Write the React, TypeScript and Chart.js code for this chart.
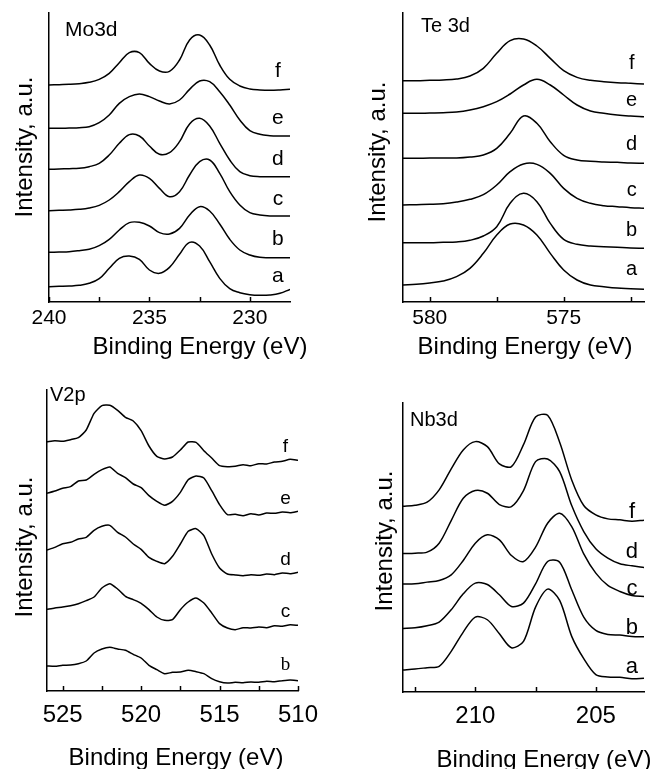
import React, { useEffect, useRef } from 'react';
import { Chart, registerables } from 'chart.js';
Chart.register(...registerables);

const SANS = '"Liberation Sans", Arial, Helvetica, sans-serif';
const SERIF = '"Liberation Serif", "Times New Roman", serif';
const W = 651;
const H = 769;
const XBOX = 44;

// ---------- Mo3d ----------
const moEnergy = [240, 239.5, 239, 238.5, 238, 237.5, 237, 236.5, 236, 235.5, 235, 234.5, 234, 233.5, 233, 232.5, 232, 231.5, 231, 230.5, 230, 229.5, 229, 228.5, 228];
const moF = [651, 652, 653, 655, 659, 668, 686, 718, 748, 748, 716, 693, 692, 726, 786, 801, 771, 711, 668, 648, 639, 636, 635, 636, 638];
const moE = [521, 521, 522, 523, 526, 538, 561, 596, 616, 624, 616, 603, 594, 606, 638, 663, 661, 631, 591, 546, 514, 503, 499, 498, 498];
const moD = [398, 399, 400, 401, 406, 416, 441, 476, 502, 498, 468, 443, 448, 481, 534, 551, 528, 476, 426, 391, 379, 376, 376, 376, 376];
const moC = [274, 275, 276, 278, 282, 290, 306, 331, 361, 381, 371, 341, 316, 331, 381, 421, 426, 386, 331, 291, 268, 261, 258, 258, 258];
const moB = [149, 150, 151, 154, 158, 169, 188, 216, 238, 239, 228, 208, 204, 221, 261, 286, 273, 234, 188, 156, 141, 134, 133, 133, 133];
const moA = [46, 47, 48, 50, 56, 70, 101, 131, 138, 128, 96, 86, 104, 143, 179, 168, 121, 71, 40, 28, 22, 20, 21, 26, 38];
const moLetters = ['f', 'e', 'd', 'c', 'b', 'a'];
const moLetterY = [691, 551, 428, 308, 188, 78];
const moTicks = [240, 237.5, 235, 232.5, 230];

// ---------- Te 3d ----------
const teEnergy = [581, 580.5, 580, 579.5, 579, 578.5, 578, 577.5, 577, 576.5, 576, 575.5, 575, 574.5, 574, 573.5, 573, 572.5, 572];
const teF = [664, 664, 665, 666, 669, 678, 701, 746, 784, 789, 768, 731, 694, 674, 665, 661, 658, 656, 654];
const teE = [566, 566, 567, 568, 570, 576, 586, 601, 624, 651, 668, 651, 621, 591, 573, 566, 561, 558, 556];
const teD = [431, 431, 432, 432, 432, 435, 441, 461, 506, 558, 536, 481, 440, 426, 422, 420, 419, 417, 416];
const teC = [291, 292, 293, 295, 300, 308, 322, 351, 391, 414, 413, 386, 341, 311, 296, 289, 286, 283, 281];
const teB = [178, 178, 178, 179, 180, 185, 198, 226, 296, 326, 301, 236, 188, 173, 168, 166, 164, 162, 161];
const teA = [51, 53, 57, 63, 76, 101, 146, 201, 234, 231, 201, 146, 96, 66, 51, 46, 42, 40, 38];
const teLetters = ['f', 'e', 'd', 'c', 'b', 'a'];
const teLetterY = [716, 606, 474, 336, 216, 98];
const teTicks = [580, 577.5, 575, 572.5];

// ---------- V2p ----------
const vEnergy = [526, 525.5, 525, 524.5, 524, 523.5, 523, 522.5, 522, 521.5, 521, 520.5, 520, 519.5, 519, 518.5, 518, 517.5, 517, 516.5, 516, 515.5, 515, 514.5, 514, 513.5, 513, 512.5, 512, 511.5, 511, 510.5, 510];
const vF = [748, 751, 749, 754, 760, 783, 833, 856, 857, 842, 821, 810, 781, 735, 704, 696, 702, 723, 747, 746, 721, 699, 676, 673, 674, 679, 676, 682, 681, 687, 689, 695, 692];
const vE = [593, 600, 608, 613, 630, 633, 650, 664, 672, 653, 640, 621, 610, 586, 569, 557, 569, 596, 634, 645, 639, 601, 559, 529, 530, 526, 532, 528, 534, 533, 537, 535, 539];
const vD = [423, 431, 442, 446, 456, 461, 482, 494, 497, 476, 462, 441, 425, 401, 389, 382, 404, 441, 479, 487, 466, 411, 369, 351, 348, 346, 349, 347, 351, 349, 354, 352, 356];
const vC = [245, 249, 252, 256, 262, 271, 282, 309, 322, 306, 284, 274, 263, 244, 222, 212, 214, 244, 267, 279, 264, 234, 202, 189, 184, 190, 189, 192, 190, 196, 194, 199, 197];
const vB = [75, 74, 77, 78, 82, 90, 114, 126, 131, 126, 122, 110, 99, 77, 64, 52, 56, 57, 62, 58, 52, 37, 28, 24, 26, 25, 27, 26, 29, 28, 31, 33, 31];
const vLetters = ['f', 'e', 'd', 'c', 'b'];
const vLetterY = [733, 578, 393, 238, 78];
const vTicks = [525, 522.5, 520, 517.5, 515, 512.5, 510];

// ---------- Nb3d ----------
const nbEnergy = [213, 212.5, 212, 211.5, 211, 210.5, 210, 209.5, 209, 208.5, 208, 207.5, 207, 206.5, 206, 205.5, 205, 204.5, 204, 203.5, 203];
const nbF = [558, 561, 570, 607, 670, 727, 752, 737, 685, 677, 743, 826, 831, 750, 637, 560, 532, 520, 517, 513, 516];
const nbD = [416, 417, 420, 447, 515, 582, 605, 597, 563, 557, 605, 692, 700, 662, 560, 482, 430, 402, 385, 379, 374];
const nbC = [324, 325, 330, 335, 352, 395, 447, 472, 457, 410, 392, 435, 507, 537, 497, 415, 357, 320, 302, 290, 287];
const nbB = [191, 193, 199, 210, 247, 295, 327, 323, 292, 257, 267, 325, 392, 390, 307, 225, 185, 173, 171, 167, 166];
const nbA = [66, 69, 73, 77, 122, 180, 225, 217, 175, 133, 152, 255, 309, 275, 167, 100, 52, 45, 44, 40, 41];
const nbLetters = ['f', 'd', 'c', 'b', 'a'];
const nbLetterY = [541, 421, 311, 191, 76];
const nbTicks = [212.5, 210, 207.5, 205];

type Panel = {
  energy: number[];
  series: number[][];
  ticks: number[];
  letters: string[];
  letterY: number[];
  letterX: number;
  letterSize: number;
  letterFonts: string[];
  xMin: number;
  xMax: number;
  yMax: number;
  box: { l: number; r: number; t: number; b: number };
  tickSize: number;
  tickPad: number;
  tension: number;
  title: string;
  titleSize: number;
  titleDx: number;
  titleDy: number;
  xTitle: [number, number];
  yTitle: [number, number];
};

const panels: Panel[] = [
  {
    energy: moEnergy, series: [moF, moE, moD, moC, moB, moA], ticks: moTicks,
    letters: moLetters, letterY: moLetterY, letterX: 228.6, letterSize: 21,
    letterFonts: [SANS, SANS, SANS, SANS, SANS, SANS],
    xMin: 228, xMax: 240, yMax: 867,
    box: { l: 49, r: 290, t: 13, b: 302 }, tickSize: 21, tickPad: 4, tension: 0.4,
    title: 'Mo3d', titleSize: 21, titleDx: 16, titleDy: 17, xTitle: [200, 347], yTitle: [25, 147],
  },
  {
    energy: teEnergy, series: [teF, teE, teD, teC, teB, teA], ticks: teTicks,
    letters: teLetters, letterY: teLetterY, letterX: 572.46, letterSize: 20,
    letterFonts: [SANS, SANS, SANS, SANS, SANS, SANS],
    xMin: 572, xMax: 581, yMax: 867,
    box: { l: 403, r: 644, t: 13, b: 302 }, tickSize: 21, tickPad: 4, tension: 0.4,
    title: 'Te 3d', titleSize: 20, titleDx: 18, titleDy: 13, xTitle: [525, 347], yTitle: [378, 152],
  },
  {
    energy: vEnergy, series: [vF, vE, vD, vC, vB], ticks: vTicks,
    letters: vLetters, letterY: vLetterY, letterX: 510.8, letterSize: 19,
    letterFonts: [SANS, SANS, SANS, SANS, SERIF],
    xMin: 510, xMax: 526, yMax: 903,
    box: { l: 47, r: 298, t: 390, b: 691 }, tickSize: 24, tickPad: 10, tension: 0.2,
    title: 'V2p', titleSize: 20, titleDx: 3, titleDy: 5, xTitle: [176, 758], yTitle: [25, 547],
  },
  {
    energy: nbEnergy, series: [nbF, nbD, nbC, nbB, nbA], ticks: nbTicks,
    letters: nbLetters, letterY: nbLetterY, letterX: 203.5, letterSize: 22,
    letterFonts: [SANS, SANS, SANS, SANS, SANS],
    xMin: 203, xMax: 213, yMax: 868,
    box: { l: 403, r: 644, t: 403, b: 692 }, tickSize: 24, tickPad: 10, tension: 0.3,
    title: 'Nb3d', titleSize: 20, titleDx: 7, titleDy: 17, xTitle: [544, 760], yTitle: [385, 541],
  },
];

const isMajor = (v: number) => {
  const r = v / 5;
  return Math.abs(r - Math.round(r)) < 1e-6;
};

function makeDeco(p: Panel) {
  return {
    id: 'deco',
    afterDraw(chart: any) {
      const { ctx, chartArea: a, scales } = chart;
      const x = scales.x;
      const y = scales.y;
      ctx.save();
      ctx.strokeStyle = '#000';
      ctx.lineWidth = 1.5;
      x.ticks.forEach((t: any) => {
        const px = Math.round(x.getPixelForValue(t.value)) + 0.5;
        ctx.beginPath();
        ctx.moveTo(px, a.bottom);
        ctx.lineTo(px, a.bottom - 5);
        ctx.stroke();
      });
      ctx.fillStyle = '#000';
      ctx.textBaseline = 'middle';
      ctx.textAlign = 'center';
      p.letters.forEach((s, i) => {
        ctx.font = `${p.letterSize}px ${p.letterFonts[i]}`;
        ctx.fillText(s, x.getPixelForValue(p.letterX), y.getPixelForValue(p.letterY[i]));
      });
      ctx.textAlign = 'left';
      ctx.font = `${p.titleSize}px ${SANS}`;
      ctx.fillText(p.title, a.left + p.titleDx, a.top + p.titleDy);
      ctx.textAlign = 'center';
      ctx.font = `24px ${SANS}`;
      ctx.fillText('Binding Energy (eV)', p.xTitle[0], p.xTitle[1]);
      ctx.translate(p.yTitle[0], p.yTitle[1]);
      ctx.rotate(-Math.PI / 2);
      ctx.fillText('Intensity, a.u.', 0, 0);
      ctx.restore();
    },
  };
}

function PanelChart({ p }: { p: Panel }) {
  const ref = useRef<HTMLCanvasElement | null>(null);
  useEffect(() => {
    if (!ref.current) return;
    const chart = new Chart(ref.current, {
      type: 'line',
      data: {
        datasets: p.series.map((s) => ({
          data: p.energy.map((e, j) => ({ x: e, y: s[j] })),
          borderColor: '#000',
          borderWidth: 1.5,
          pointRadius: 0,
          tension: p.tension,
          fill: false,
        })),
      },
      options: {
        animation: false,
        responsive: false,
        devicePixelRatio: 1,
        events: [],
        layout: { padding: { left: p.box.l, right: W - p.box.r, top: p.box.t, bottom: H - p.box.b - XBOX } },
        plugins: { legend: { display: false }, tooltip: { enabled: false } },
        scales: {
          x: {
            type: 'linear',
            reverse: true,
            min: p.xMin,
            max: p.xMax,
            afterBuildTicks: (s: any) => { s.ticks = p.ticks.map((v) => ({ value: v })); },
            afterFit: (s: any) => { s.height = XBOX; },
            grid: { display: false, drawTicks: false },
            border: { display: true, color: '#000', width: 1.5 },
            ticks: {
              autoSkip: false,
              maxRotation: 0,
              color: '#000',
              padding: p.tickPad,
              font: { family: SANS, size: p.tickSize },
              callback: (v: any) => (isMajor(Number(v)) ? String(Math.round(Number(v))) : ''),
            },
          },
          y: {
            type: 'linear',
            min: 0,
            max: p.yMax,
            afterFit: (s: any) => { s.width = 0; },
            grid: { display: false, drawTicks: false },
            border: { display: true, color: '#000', width: 1.5 },
            ticks: { display: false },
          },
        },
      } as any,
      plugins: [makeDeco(p)],
    });
    return () => chart.destroy();
  }, [p]);
  return (
    <canvas
      ref={ref}
      width={W}
      height={H}
      style={{ position: 'absolute', left: 0, top: 0, width: W, height: H }}
    />
  );
}

export default function App() {
  return (
    <div style={{ position: 'absolute', left: 0, top: 0, width: W, height: H, background: '#fff' }}>
      {panels.map((p, i) => (
        <PanelChart key={i} p={p} />
      ))}
    </div>
  );
}
